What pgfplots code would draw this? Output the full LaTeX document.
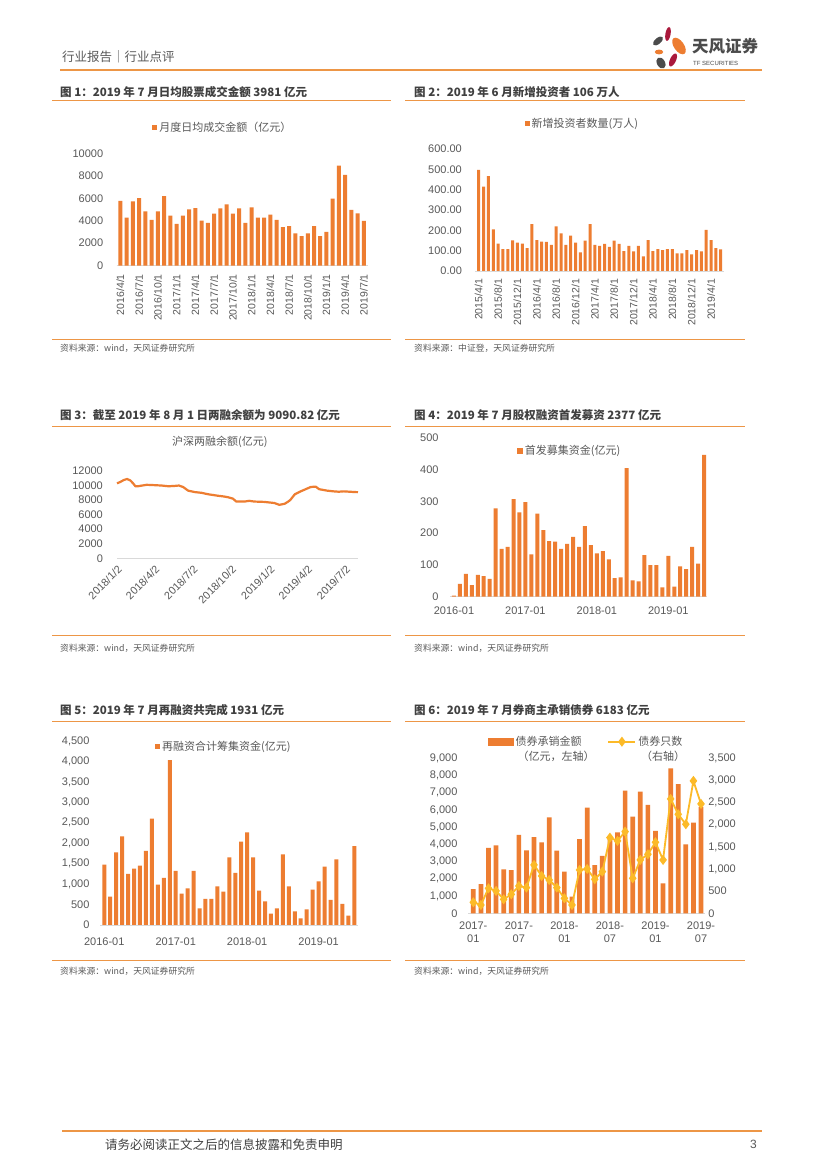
\documentclass[border=0pt]{standalone}
\usepackage{fontspec}
\setmainfont{Liberation Sans}
\newfontfamily\cjk{Noto Sans CJK SC}
\usepackage{pgfplots}
\usepackage{pgfplotstable}
\pgfplotsset{compat=1.18}

\definecolor{barorange}{RGB}{237,125,49}
\definecolor{lineyellow}{RGB}{252,186,40}
\definecolor{rulecol}{RGB}{237,150,70}
\definecolor{titlegray}{RGB}{64,64,64}
\definecolor{tickgray}{RGB}{89,89,89}
\definecolor{axisgray}{RGB}{217,217,217}
\definecolor{logored}{RGB}{170,25,60}
\definecolor{logogray}{RGB}{75,75,75}
\newcommand{\fs}[1]{\fontsize{#1}{#1}\selectfont}

% fig 1: monthly average daily turnover, 2016/4 - 2019/7
\pgfplotstableread{
x y
0 5760
1 4270
2 5730
3 6020
4 4840
5 4070
6 4840
7 6200
8 4450
9 3710
10 4450
11 5010
12 5130
13 4000
14 3800
15 4630
16 5100
17 5460
18 4630
19 5100
20 3800
21 5190
22 4270
23 4270
24 4540
25 4070
26 3440
27 3530
28 2880
29 2640
30 2880
31 3530
32 2640
33 3000
34 5960
35 8900
36 8070
37 4960
38 4660
39 3981
}\turnover

% fig 2: new investors, 2015/4 - 2019/6
\pgfplotstableread{
x y
0 497
1 415
2 467
3 205
4 134
5 108
6 108
7 151
8 139
9 134
10 113
11 231
12 152
13 144
14 143
15 128
16 220
17 185
18 128
19 174
20 139
21 92
22 149
23 231
24 128
25 123
26 133
27 118
28 149
29 133
30 98
31 123
32 97
33 123
34 72
35 152
36 98
37 107
38 103
39 107
40 107
41 87
42 87
43 103
44 82
45 103
46 97
47 202
48 152
49 113
50 106
}\investors

% fig 3: margin balance, days since 2018/1/2
\pgfplotstableread{
x y
0 10300
8 10500
16 10750
24 10900
32 10700
40 10200
44 9900
50 9900
58 9980
71 10100
80 10080
91 10050
107 10000
123 9900
138 9950
148 10000
158 9800
164 9550
170 9300
186 9100
202 9000
218 8800
241 8600
255 8500
265 8400
277 8200
285 7800
305 7800
316 7900
328 7800
352 7750
376 7600
388 7350
401 7500
408 7750
414 8000
425 8800
439 9200
451 9500
463 9800
475 9850
483 9500
502 9300
518 9200
530 9150
542 9200
556 9150
570 9100
576 9091
}\margin

% fig 4: IPO proceeds, 2016-01 - 2019-07
\pgfplotstableread{
x y
0 3
1 40
2 72
3 36
4 69
5 65
6 56
7 278
8 150
9 157
10 307
11 265
12 297
13 133
14 261
15 209
16 175
17 173
18 150
19 166
20 188
21 157
22 222
23 162
24 136
25 143
26 117
27 58
28 61
29 404
30 51
31 48
32 131
33 99
34 99
35 29
36 128
37 32
38 95
39 87
40 157
41 104
42 446
}\ipo

% fig 5: refinancing, 2016-01 - 2019-07
\pgfplotstableread{
x y
0 1476
1 693
2 1778
3 2170
4 1248
5 1378
6 1452
7 1811
8 2602
9 987
10 1150
11 4030
12 1321
13 767
14 897
15 1321
16 408
17 636
18 636
19 946
20 816
21 1656
22 1272
23 2039
24 2268
25 1656
26 840
27 579
28 277
29 408
30 1729
31 946
32 334
33 163
34 383
35 865
36 1069
37 1427
38 612
39 1607
40 514
41 228
42 1931
}\refin

% fig 6: bond underwriting, 2017-01 - 2019-07
\pgfplotstableread{
x amt num
0 1400 248
1 1700 188
2 3800 565
3 3950 505
4 2550 316
5 2500 429
6 4550 617
7 3650 580
8 4430 1092
9 4120 843
10 5570 753
11 3640 580
12 2420 339
13 970 188
14 4310 979
15 6130 1002
16 2790 768
17 3330 941
18 4400 1709
19 4700 1634
20 7120 1845
21 5610 791
22 7060 1205
23 6290 1333
24 4780 1604
25 1740 1205
26 8410 2583
27 7500 2236
28 4000 2011
29 5260 2990
30 6183 2470
}\bonds

\pgfplotsset{
  panel/.style={scale only axis, anchor=south west, enlargelimits=false, clip=false,
    axis x line*=bottom, axis y line*=left,
    x axis line style={-,draw=axisgray,line width=0.8pt},
    y axis line style={draw=none},
    major tick length=0pt, tick style={draw=none},
    /pgf/number format/assume math mode=true,
    scaled y ticks=false,
    tick label style={font=\fs{11}, text=tickgray},
    legend style={draw=none, fill=none, inner sep=0pt, font=\cjk\fs{11}\color{tickgray}},
  },
  sqlegend/.style={legend image code/.code={\fill[barorange] (0pt,-#1) rectangle (2*#1,#1);}},
  linelegend/.style={legend image code/.code={\draw[mark repeat=2, mark phase=2, ##1] plot coordinates {(0pt,0pt) (13.5pt,0pt) (27pt,0pt)};}},
}

\begin{document}
\begin{tikzpicture}
\useasboundingbox (0pt,0pt) rectangle (827pt,1170pt);
\fill[white] (0pt,0pt) rectangle (827pt,1170pt);

% page furniture, in page coordinates (y down)
\begin{scope}[x=1pt,y=-1pt,yshift=1170pt]
  \node[anchor=west,inner sep=0,font=\cjk\fs{12.5},text=tickgray] at (62,57) {行业报告｜行业点评};
  \draw[rulecol,line width=1.8pt] (60,70) -- (762,70);
  % logo
  \fill[logored,rotate around={-10:(668,34)}] (668,34) ellipse [x radius=2.6, y radius=7];
  \fill[logogray,rotate around={-50:(658,41)}] (658,41) ellipse [x radius=3, y radius=6];
  \fill[barorange,rotate around={35:(679,46)}] (679,46) ellipse [x radius=5, y radius=9.5];
  \fill[barorange] (659,52) ellipse [x radius=4.2, y radius=2.4];
  \fill[logored,rotate around={-25:(673,60)}] (673,60) ellipse [x radius=3, y radius=7];
  \fill[logogray,rotate around={30:(661,63)}] (661,63) ellipse [x radius=4, y radius=6];
  \node[anchor=west,inner sep=0,font=\cjk\bfseries\fs{16.5},text=logogray] at (692,46) {天风证券};
  \node[anchor=west,inner sep=0,font=\fs{6},text=logogray] at (693,63) {TF SECURITIES};
  % titles and rules
  \foreach \tx/\ty/\txt in {60/91.7/{图 1：2019 年 7 月日均股票成交金额 3981 亿元},
      414/91.7/{图 2：2019 年 6 月新增投资者 106 万人},
      60/415/{图 3：截至 2019 年 8 月 1 日两融余额为 9090.82 亿元},
      414/415/{图 4：2019 年 7 月股权融资首发募资 2377 亿元},
      60/710/{图 5：2019 年 7 月再融资共完成 1931 亿元},
      414/710/{图 6：2019 年 7 月券商主承销债券 6183 亿元}}
    \node[anchor=west,inner sep=0,font=\cjk\bfseries\fs{11.5},text=titlegray] at (\tx,\ty) {\txt};
  \foreach \ry in {100.7,339,426,635,721,960.7} {
    \draw[rulecol,line width=0.9pt] (52,\ry) -- (391,\ry);
    \draw[rulecol,line width=0.9pt] (405,\ry) -- (745,\ry);
  }
  \foreach \tx/\ty/\txt in {60/348/{资料来源：wind，天风证券研究所},
      414/348/{资料来源：中证登，天风证券研究所},
      60/648/{资料来源：wind，天风证券研究所},
      414/648/{资料来源：wind，天风证券研究所},
      60/971/{资料来源：wind，天风证券研究所},
      414/971/{资料来源：wind，天风证券研究所}}
    \node[anchor=west,inner sep=0,font=\cjk\fs{8.8},text=tickgray] at (\tx,\ty) {\txt};
  % fig 6 legend second lines
  \node[inner sep=0,font=\cjk\fs{11},text=tickgray] at (556,756.7) {（亿元，左轴）};
  \node[inner sep=0,font=\cjk\fs{11},text=tickgray] at (663,756.7) {（右轴）};
  % footer
  \draw[rulecol,line width=1.8pt] (62,1131) -- (762,1131);
  \node[anchor=west,inner sep=0,font=\cjk\fs{12.5},text=titlegray] at (105,1144.5) {请务必阅读正文之后的信息披露和免责申明};
  \node[anchor=east,inner sep=0,font=\fs{12},text=tickgray] at (757,1144.5) {3};
\end{scope}

% fig 1
\begin{axis}[panel, at={(116.7pt,904.3pt)}, width=251pt, height=112.4pt,
  xmin=-0.6, xmax=39.6, ymin=0, ymax=10000, ytick={0,2000,...,10000},
  /pgf/number format/1000 sep={}, yticklabel shift=10pt,
  ybar, bar width=4pt,
  xtick={0,3,...,39},
  xticklabels={2016/4/1,2016/7/1,2016/10/1,2017/1/1,2017/4/1,2017/7/1,2017/10/1,2018/1/1,2018/4/1,2018/7/1,2018/10/1,2019/1/1,2019/4/1,2019/7/1},
  xticklabel style={rotate=90, anchor=east, font=\fs{10.5}}, xticklabel shift=5pt,
  legend style={at={(0.4235,1.228)}, anchor=center}]
\addplot[fill=barorange, draw=none, sqlegend=2.5pt] table {\turnover};
\addlegendentry{月度日均成交金额（亿元）}
\end{axis}

% fig 2
\begin{axis}[panel, at={(475.1pt,899pt)}, width=248.5pt, height=122pt,
  xmin=-0.75, xmax=50.6, ymin=0, ymax=600, ytick={0,100,...,600},
  yticklabel style={/pgf/number format/.cd, fixed, fixed zerofill, precision=2},
  yticklabel shift=9.7pt,
  ybar, bar width=3pt,
  xtick={0,4,...,48},
  xticklabels={2015/4/1,2015/8/1,2015/12/1,2016/4/1,2016/8/1,2016/12/1,2017/4/1,2017/8/1,2017/12/1,2018/4/1,2018/8/1,2018/12/1,2019/4/1},
  xticklabel style={rotate=90, anchor=east, font=\fs{10.5}}, xticklabel shift=4.5pt,
  legend style={at={(0.432,1.211)}, anchor=center}]
\addplot[fill=barorange, draw=none, sqlegend=2.5pt] table {\investors};
\addlegendentry{新增投资者数量(万人)}
\end{axis}

% fig 3
\begin{axis}[panel, at={(117pt,611.7pt)}, width=241pt, height=87.3pt,
  xmin=0, xmax=576, ymin=0, ymax=12000, ytick={0,2000,...,12000},
  /pgf/number format/1000 sep={}, yticklabel shift=10.6pt,
  xtick={0,90,181,273,365,455,546},
  xticklabels={2018/1/2,2018/4/2,2018/7/2,2018/10/2,2019/1/2,2019/4/2,2019/7/2},
  xticklabel style={rotate=45, anchor=north east, font=\fs{10.8}}, xticklabel shift=1.5pt,
  title={\cjk\fs{11}\color{tickgray}沪深两融余额(亿元)},
  title style={at={(0.427,1.267)}, anchor=center, inner sep=0pt}]
\addplot[barorange, line width=2.2pt, line join=round, no marks] table {\margin};
\end{axis}

% fig 4
\begin{axis}[panel, at={(450.4pt,573.3pt)}, width=256.6pt, height=159pt,
  xmin=-0.6, xmax=42.5, ymin=0, ymax=500, ytick={0,100,...,500},
  yticklabel shift=8.3pt,
  ybar, bar width=4pt,
  xtick={0,12,24,36}, xticklabels={2016-01,2017-01,2018-01,2019-01},
  xticklabel shift=7pt,
  legend style={at={(0.258,0.918)}, anchor=west}]
\addplot[fill=barorange, draw=none, sqlegend=3pt] table {\ipo};
\addlegendentry{首发募集资金(亿元)}
\end{axis}

% fig 5
\begin{axis}[panel, at={(100.1pt,245pt)}, width=257.8pt, height=184pt,
  xmin=-0.7, xmax=42.6, ymin=0, ymax=4500, ytick={0,500,...,4500},
  /pgf/number format/1000 sep={,}, yticklabel shift=7.1pt,
  ybar, bar width=4pt,
  xtick={0,12,24,36}, xticklabels={2016-01,2017-01,2018-01,2019-01},
  xticklabel shift=9pt,
  legend style={at={(0.213,0.969)}, anchor=west}]
\addplot[fill=barorange, draw=none, sqlegend=2.5pt] table {\refin};
\addlegendentry{再融资合计筹集资金(亿元)}
\end{axis}

% fig 6
\begin{axis}[panel, at={(468.3pt,256.7pt)}, width=236.5pt, height=155pt,
  xmin=-0.66, xmax=30.5, ymin=0, ymax=9000, ytick={0,1000,...,9000},
  /pgf/number format/1000 sep={,}, yticklabel shift=7.3pt,
  ybar, bar width=4.7pt,
  xtick={0,6,...,30},
  xticklabels={{2017-\\01},{2017-\\07},{2018-\\01},{2018-\\07},{2019-\\01},{2019-\\07}},
  xticklabel style={align=center, font=\fontsize{11}{13.3}\selectfont}, xticklabel shift=5pt]
\addplot[fill=barorange, draw=none] table[x=x, y=amt] {\bonds};
\end{axis}
\begin{axis}[panel, at={(468.3pt,256.7pt)}, width=236.5pt, height=155pt,
  xmin=-0.66, xmax=30.5, ymin=0, ymax=3500, ytick={0,500,...,3500},
  axis x line=none, axis y line*=right, xtick=\empty,
  /pgf/number format/1000 sep={,}, yticklabel shift=0pt,
  legend columns=2,
  legend style={at={(0.083,1.107)}, anchor=west, /tikz/every even column/.append style={column sep=24pt}}]
\addlegendimage{legend image code/.code={\fill[barorange] (0pt,-3.5pt) rectangle (25pt,3.5pt);}}
\addlegendentry{债券承销金额}
\addplot[lineyellow, line width=1.8pt, mark=diamond*, mark size=3.6pt, mark options={fill=lineyellow, draw=lineyellow}, linelegend]
  table[x=x, y=num] {\bonds};
\addlegendentry{债券只数}
\end{axis}
\end{tikzpicture}
\end{document}
